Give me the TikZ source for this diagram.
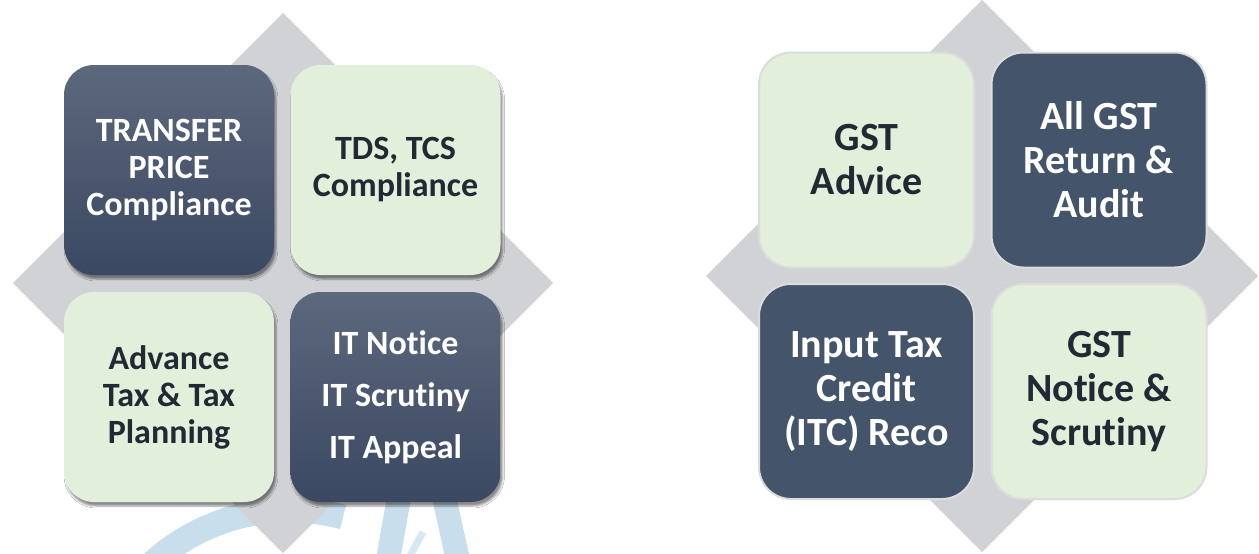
\documentclass[tikz,border=0pt]{standalone}
\usepackage{fontspec}
\setmainfont{Carlito}[Ligatures=NoCommon]
\usetikzlibrary{shadows.blur}

\definecolor{slate}{RGB}{68,84,106}
\definecolor{slatetop}{RGB}{92,104,124}
\definecolor{slatebot}{RGB}{58,72,98}
\definecolor{mint}{RGB}{226,239,218}
\definecolor{diamondgray}{RGB}{208,210,214}
\definecolor{inkdark}{RGB}{34,40,52}
\definecolor{markblue}{RGB}{200,222,236}
\definecolor{rimgray}{RGB}{220,220,220}

\tikzset{
  tile/.style={rounded corners=30pt, minimum width=210pt, minimum height=210pt,
    inner sep=0pt, align=center, font=\bfseries\fontsize{34}{37}\selectfont},
  darktile/.style={tile, top color=slatetop, bottom color=slatebot, text=white,
    blur shadow={shadow xshift=2pt, shadow yshift=-4pt, shadow opacity=45}},
  lighttile/.style={tile, fill=mint, text=inkdark,
    blur shadow={shadow xshift=2pt, shadow yshift=-4pt, shadow opacity=45}},
  gsttile/.style={rounded corners=32pt, minimum width=215pt, minimum height=215pt,
    inner sep=0pt, align=center, draw=rimgray, line width=2pt,
    font=\bfseries\fontsize{40}{44}\selectfont},
  gstdark/.style={gsttile, fill=slate, text=white},
  gstlight/.style={gsttile, fill=mint, text=inkdark}
}

\begin{document}
\begin{tikzpicture}
      [x=1pt, y=-1pt]
      \fill[white] (0,0) rectangle (1259,554);
      % faint watermark at the bottom
      \begin{scope}
        \clip (0,0) rectangle (1259,554);
        \draw[markblue, line width=25pt] (290,715) ++(-75:205) arc[start angle=-75, end angle=-150, radius=205];
        \draw[markblue, line width=24pt] (388,560) -- (402,480);
        \draw[markblue, line width=24pt] (458,560) -- (438,470);
        \draw[markblue!70, line width=7pt] (410,556) -- (423,532);
      \end{scope}
      % diamonds behind the tiles
      \fill[diamondgray] (283,13) -- (553,283) -- (283,553) -- (13,283) -- cycle;
      \fill[diamondgray] (982,0) -- (1258,276) -- (982,552) -- (706,276) -- cycle;
      % income tax tiles
      \node[darktile](tp) at (169, 170) {TRANSFER\\PRICE\\Compliance};
      \node[lighttile](tds) at (395.5, 170) {TDS, TCS\\Compliance};
      \node[lighttile](adv) at (169, 397) {Advance\\Tax \& Tax\\Planning};
      \node[darktile, font=\bfseries\fontsize{34}{52}\selectfont](it) at (395.5, 397)
        {IT Notice\\IT Scrutiny\\IT Appeal};
      % gst tiles
      \node[gstlight](advice) at (866.5, 160) {GST\\Advice};
      \node[gstdark](ret) at (1099, 160) {All GST\\Return \&\\Audit};
      \node[gstdark](itc) at (866.5, 391.5) {Input Tax\\Credit\\(ITC) Reco};
      \node[gstlight](notice) at (1099, 391.5) {GST\\Notice \&\\Scrutiny};
  \end{tikzpicture}
\end{document}
